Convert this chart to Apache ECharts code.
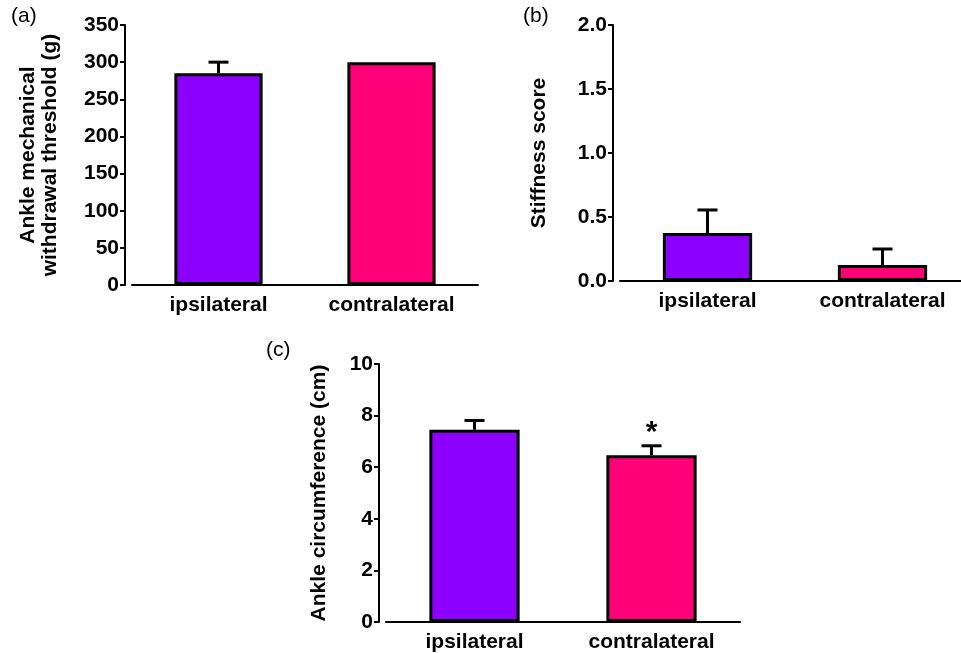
<!DOCTYPE html>
<html>
<head>
<meta charset="utf-8">
<script src="https://cdn.jsdelivr.net/npm/echarts@6/dist/echarts.min.js"></script>
<style>
html,body{margin:0;padding:0;background:#fff;}
#chart{width:961px;height:653px;}
</style>
</head>
<body>
<div id="chart"></div>
<script>
// ---- data ----
var categories = ['ipsilateral', 'contralateral'];
var barColors = ['#8C00FF', '#FF0078'];

var thresholdMean = [285, 300];
var thresholdSem = [15, 0];

var stiffnessMean = [0.375, 0.125];
var stiffnessSem = [0.18, 0.125];

var circumferenceMean = [7.45, 6.46];
var circumferenceSem = [0.36, 0.37];
var circumferenceSig = ['', '*'];

var panelLabels = ['(a)', '(b)', '(c)'];
var yTitles = ['Ankle mechanical\nwithdrawal threshold (g)', 'Stiffness score', 'Ankle circumference (cm)'];

// ---- chart ----
var FONT = 'Liberation Sans, Arial, sans-serif';
var chart = echarts.init(document.getElementById('chart'));

function barData(vals) {
  return vals.map(function (v, i) {
    return { value: v, itemStyle: { color: barColors[i] } };
  });
}
function errData(means, sems, sig) {
  return means.map(function (m, i) {
    return [i, m, sems[i], sig ? sig[i] : ''];
  });
}
function errRender(params, api) {
  var x = api.value(0), m = api.value(1), e = api.value(2);
  var sig = api.value(3);
  var base = api.coord([x, m]);
  var top = api.coord([x, m + e]);
  var children = [];
  if (e > 0) {
    children.push({ type: 'line', shape: { x1: base[0], y1: base[1], x2: top[0], y2: top[1] },
      style: { stroke: '#000', lineWidth: 3 } });
    children.push({ type: 'line', shape: { x1: top[0] - 10, y1: top[1], x2: top[0] + 10, y2: top[1] },
      style: { stroke: '#000', lineWidth: 3 } });
  }
  if (sig) {
    children.push({ type: 'text', x: top[0], y: top[1] + 2,
      style: { text: sig, fill: '#000', font: 'bold 30px ' + FONT, align: 'center', verticalAlign: 'bottom' } });
  }
  return { type: 'group', children: children };
}

var grids = [
  { left: 132, top: 25, width: 346, height: 260, outerBoundsMode: 'none', containLabel: false },
  { left: 620, top: 25, width: 350, height: 256, outerBoundsMode: 'none', containLabel: false },
  { left: 386, top: 364, width: 354, height: 258, outerBoundsMode: 'none', containLabel: false }
];
var yConf = [
  { max: 350, interval: 50, gap: 64, fmt: function (v) { return v; } },
  { max: 2, interval: 0.5, gap: 63, fmt: function (v) { return v.toFixed(1); } },
  { max: 10, interval: 2, gap: 49, fmt: function (v) { return v; } }
];
var means = [thresholdMean, stiffnessMean, circumferenceMean];
var sems = [thresholdSem, stiffnessSem, circumferenceSem];
var sigs = [null, null, circumferenceSig];

var xAxes = [], yAxes = [], series = [];
for (var k = 0; k < 3; k++) {
  xAxes.push({
    type: 'category', gridIndex: k, data: categories,
    axisLine: { lineStyle: { color: '#000', width: 2 } },
    axisTick: { alignWithLabel: true, length: 6, lineStyle: { color: '#000', width: 2 } },
    axisLabel: { color: '#000', fontFamily: FONT, fontWeight: 'bold', fontSize: 21, margin: 10 },
    splitLine: { show: false }
  });
  yAxes.push({
    type: 'value', gridIndex: k, min: 0, max: yConf[k].max, interval: yConf[k].interval,
    offset: 7,
    name: yTitles[k], nameLocation: 'middle', nameGap: yConf[k].gap,
    nameTextStyle: { color: '#000', fontFamily: FONT, fontWeight: 'bold', fontSize: 21, lineHeight: 22 },
    axisLine: { show: true, lineStyle: { color: '#000', width: 2 } },
    axisTick: { show: true, length: 5, lineStyle: { color: '#000', width: 2 } },
    axisLabel: { color: '#000', fontFamily: FONT, fontWeight: 'bold', fontSize: 21, margin: 6, formatter: yConf[k].fmt },
    splitLine: { show: false }
  });
  series.push({
    type: 'bar', xAxisIndex: k, yAxisIndex: k, barWidth: '51%',
    data: barData(means[k]),
    itemStyle: { borderColor: '#000', borderWidth: 3 },
    z: 2
  });
  series.push({
    type: 'custom', xAxisIndex: k, yAxisIndex: k,
    data: errData(means[k], sems[k], sigs[k]),
    renderItem: errRender, z: 1
  });
}

chart.setOption({
  animation: false,
  backgroundColor: '#fff',
  grid: grids,
  xAxis: xAxes,
  yAxis: yAxes,
  series: series,
  graphic: [
    { type: 'text', left: 11, top: 6, style: { text: panelLabels[0], font: '21px ' + FONT, fill: '#000' } },
    { type: 'text', left: 523, top: 6, style: { text: panelLabels[1], font: '21px ' + FONT, fill: '#000' } },
    { type: 'text', left: 266, top: 340, style: { text: panelLabels[2], font: '21px ' + FONT, fill: '#000' } }
  ]
});
</script>
</body>
</html>
